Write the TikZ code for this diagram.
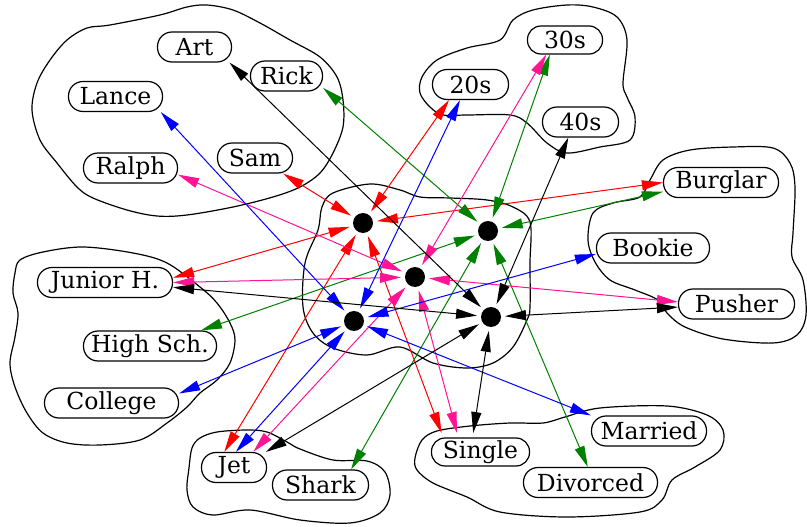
\documentclass[tikz,border=0pt]{standalone}
\usepackage{fontspec}
\setmainfont{DejaVu Serif}
\usetikzlibrary{arrows.meta,shapes.misc}
\definecolor{linkred}{RGB}{255,0,0}
\definecolor{linkgreen}{RGB}{0,128,0}
\definecolor{linkpink}{RGB}{255,20,147}
\definecolor{linkblue}{RGB}{0,0,255}
\begin{document}
\begin{tikzpicture}[x=1pt,y=-1pt,
  pool/.style={line width=1.2pt},
  unitlabel/.style={draw, line width=1.2pt, rectangle, rounded corners=14.5pt, inner xsep=2pt, inner ysep=0pt,
    minimum height=30pt, font=\fontsize{23.5}{25}\selectfont},
  hidden/.style={circle, fill=black, minimum size=20pt, inner sep=0pt, outer sep=4pt},
  link/.style={line width=1pt, rounded corners=0pt, {Triangle[length=21pt,width=10pt]}-{Triangle[length=21pt,width=10pt]}},
]
\useasboundingbox (0,0) rectangle (807,527);

% ---- pools ----
% names
\draw[pool] plot[smooth cycle, tension=0.55] coordinates {
  (32,110) (37,83) (50,60) (67,40) (87,28) (110,25) (160,15) (187,7) (207,5) (233,10)
  (260,23) (290,40) (320,57) (337,77) (343,100) (343,127) (333,153) (320,173) (300,187)
  (273,197) (233,207) (187,215) (157,216) (127,210) (93,198) (77,187) (57,163) (40,140)};
% ages
\draw[pool] plot[smooth cycle, tension=0.55] coordinates {
  (420,93) (422,77) (437,60) (467,48) (500,40) (513,20) (533,10) (567,5) (593,7) (617,17)
  (627,40) (623,83) (627,97) (635,117) (630,140) (600,147) (567,153) (547,143) (527,123)
  (510,115) (467,115) (443,115) (430,107)};
% occupations
\draw[pool] plot[smooth cycle, tension=0.55] coordinates {
  (650,180) (663,160) (690,150) (733,147) (773,148) (790,163) (795,187) (793,233) (792,257)
  (803,280) (806,315) (797,335) (773,343) (723,339) (685,327) (667,313) (658,300) (635,290)
  (610,280) (595,262) (588,240) (593,213) (613,203) (640,197)};
% education
\draw[pool] plot[smooth cycle, tension=0.55] coordinates {
  (15,273) (20,260) (43,252) (83,247) (133,253) (167,263) (200,287) (217,303) (230,323)
  (235,340) (230,363) (217,380) (200,393) (187,407) (167,423) (140,440) (100,445) (67,443)
  (43,433) (27,413) (15,387) (10,363) (15,337) (18,313) (13,293)};
% gangs
\draw[pool] plot[smooth cycle, tension=0.55] coordinates {
  (192,448) (200,438) (217,432) (247,430) (267,432) (287,442) (300,449) (333,460) (367,461)
  (385,472) (390,495) (380,513) (350,523) (300,520) (250,510) (213,515) (193,507) (187,490)
  (189,468)};
% marital status
\draw[pool] plot[smooth cycle, tension=0.55] coordinates {
  (415,458) (422,440) (437,431) (470,426) (510,423) (543,423) (565,417) (600,408) (667,406)
  (707,415) (723,430) (720,450) (695,467) (672,480) (662,500) (640,512) (567,517) (500,512)
  (467,497) (433,483) (417,470)};
% hidden units
\draw[pool] plot[smooth cycle, tension=0.55] coordinates {
  (333,193) (370,184) (400,190) (420,197) (450,198) (487,200) (513,207) (530,222) (530,263)
  (530,307) (527,320) (513,347) (493,363) (467,368) (433,363) (400,347) (367,355) (333,348)
  (313,333) (303,307) (305,263) (318,230) (322,207)};

% ---- unit labels ----
\node[unitlabel, minimum width=74pt] (art) at (194.5,47) {Art};
\node[unitlabel, minimum width=72pt] (rick) at (286.5,76) {Rick};
\node[unitlabel, minimum width=94pt] (lance) at (115.5,96.5) {Lance};
\node[unitlabel, minimum width=75pt] (sam) at (255,158) {Sam};
\node[unitlabel, minimum width=94pt] (ralph) at (130.5,168) {Ralph};
\node[unitlabel, minimum width=75pt, minimum height=28pt, rounded corners=13.5pt] (a30) at (565,40) {30s};
\node[unitlabel, minimum width=76pt] (a20) at (470.5,84.5) {20s};
\node[unitlabel, minimum width=76pt] (a40) at (580.5,122) {40s};
\node[unitlabel, minimum width=115pt] (burglar) at (721,182.5) {Burglar};
\node[unitlabel, minimum width=113pt] (bookie) at (653,248) {Bookie};
\node[unitlabel, minimum width=116pt] (pusher) at (736.5,304) {Pusher};
\node[unitlabel, minimum width=135pt] (junior) at (105,282.5) {Junior H.};
\node[unitlabel, minimum width=133pt] (high) at (150,346) {High Sch.};
\node[unitlabel, minimum width=134pt] (college) at (111.5,403) {College};
\node[unitlabel, minimum width=65pt] (jet) at (234,467.5) {Jet};
\node[unitlabel, minimum width=96pt] (shark) at (320.5,485) {Shark};
\node[unitlabel, minimum width=115pt] (married) at (649,431) {Married};
\node[unitlabel, minimum width=98pt, minimum height=28pt, rounded corners=13.5pt, outer sep=5pt] (single) at (480.5,452) {Single};
\node[unitlabel, minimum width=134pt] (divorced) at (590.5,482.5) {Divorced};

% ---- hidden units ----
\node[hidden] (hR) at (363,223) {};
\node[hidden] (hG) at (488,231) {};
\node[hidden] (hP) at (415,277) {};
\node[hidden] (hB) at (354,321) {};
\node[hidden] (hK) at (491,317) {};

% ---- connections ----
\draw[link, linkred] (hR) -- (sam.-29.5);
\draw[link, linkred] (hR) -- (a20.-144);
\draw[link, linkred] (hR) -- (burglar.180);
\draw[link, linkred] (hR) -- (junior.4.6);
\draw[link, linkred] (hR) -- (jet.122);
\draw[link, linkred] (hR) -- (single.154.8);

\draw[link, linkgreen] (hG) -- (rick.-18.7);
\draw[link, linkgreen] (hG) -- (a30.-136.4);
\draw[link, linkgreen] (hG) -- (burglar.-171.7);
\draw[link, linkgreen] (hG) -- (high.17.7);
\draw[link, linkgreen] (hG) -- (shark.27.6);
\draw[link, linkgreen] (hG) -- (divorced.100);

\draw[link, linkpink] (hP) -- (ralph.-8);
\draw[link, linkpink] (hP) -- (a30.-142.4);
\draw[link, linkpink] (hP) -- (pusher.178);
\draw[link, linkpink] (hP) -- (junior.-0.4);
\draw[link, linkpink] (hP) -- (jet.39.8);
\draw[link, linkpink] (hP) -- (single.141.3);

\draw[link, linkblue] (hB) -- (lance.-19.2);
\draw[link, linkblue] (hB) -- (a20.-124);
\draw[link, linkblue] (hB) -- (bookie.-174);
\draw[link, linkblue] (hB) -- (college.8);
\draw[link, linkblue] (hB) -- (jet.83.5);
\draw[link, linkblue] (hB) -- (married.165.5);

\draw[link, black] (hK) -- (art.-24.5);
\draw[link, black] (hK) -- (a40.-128);
\draw[link, black] (hK) -- (pusher.-177);
\draw[link, black] (hK) -- (junior.-4.4);
\draw[link, black] (hK) -- (jet.26.6);
\draw[link, black] (hK) -- (single.111.6);
\end{tikzpicture}
\end{document}
